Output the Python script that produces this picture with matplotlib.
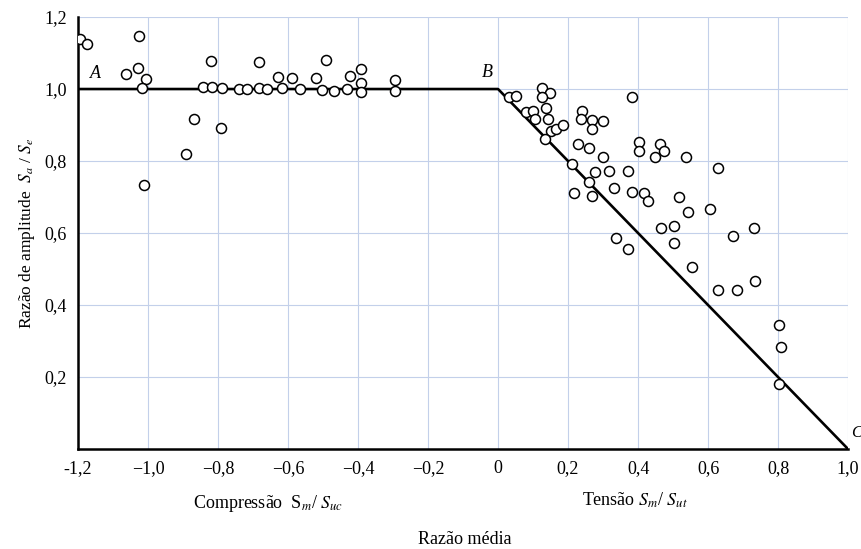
# -*- coding: utf-8 -*-
# Diagrama de Goodman modificado - razão de amplitude vs razão média

import numpy as np
import matplotlib.pyplot as plt

# ----------------------------------------------------------------------
# Dados
# Compressão (lado esquerdo)
xc = [-1.193, -1.175, -1.025, -1.062, -1.028, -1.005, -1.017, -1.011,
      -0.891, -0.870, -0.792, -0.820, -0.844, -0.817, -0.788, -0.739,
      -0.718, -0.682, -0.682, -0.659, -0.629, -0.618, -0.590, -0.567,
      -0.519, -0.491, -0.503, -0.470, -0.432, -0.424, -0.391, -0.391,
      -0.391, -0.294, -0.294]
yc = [1.139, 1.125, 1.147, 1.041, 1.059, 1.028, 1.002, 0.734,
      0.819, 0.918, 0.893, 1.079, 1.005, 1.005, 1.002, 1.000,
      0.999, 1.074, 1.002, 1.000, 1.034, 1.002, 1.032, 0.999,
      1.031, 1.081, 0.997, 0.994, 0.999, 1.037, 1.055, 1.016,
      0.993, 1.025, 0.995]

# Tensão (lado direito)
xt = [0.032, 0.051, 0.126, 0.149, 0.126, 0.383, 0.079, 0.101, 0.105,
      0.137, 0.144, 0.150, 0.166, 0.185, 0.135, 0.240, 0.236, 0.267,
      0.267, 0.300, 0.227, 0.259, 0.300, 0.404, 0.402, 0.463, 0.474,
      0.449, 0.536, 0.627, 0.211, 0.259, 0.278, 0.318, 0.371, 0.217,
      0.267, 0.331, 0.382, 0.418, 0.427, 0.516, 0.544, 0.606, 0.337,
      0.372, 0.465, 0.502, 0.504, 0.672, 0.731, 0.553, 0.629, 0.682,
      0.733, 0.802, 0.809, 0.803]
yt = [0.979, 0.981, 1.004, 0.988, 0.979, 0.977, 0.935, 0.939, 0.916,
      0.946, 0.918, 0.883, 0.888, 0.900, 0.861, 0.938, 0.918, 0.914,
      0.889, 0.911, 0.848, 0.835, 0.812, 0.854, 0.829, 0.847, 0.829,
      0.812, 0.810, 0.781, 0.791, 0.743, 0.770, 0.773, 0.771, 0.712,
      0.703, 0.725, 0.713, 0.710, 0.690, 0.699, 0.658, 0.666, 0.585,
      0.557, 0.613, 0.619, 0.573, 0.592, 0.615, 0.505, 0.442, 0.442,
      0.466, 0.344, 0.283, 0.180]

# Linha A-B-C
linha_x = [-1.2, 0.0, 1.0]
linha_y = [1.0, 1.0, 0.0]

xticks = [-1.2, -1.0, -0.8, -0.6, -0.4, -0.2, 0.0, 0.2, 0.4, 0.6, 0.8, 1.0]
xticklabels = ['-1,2', '\u22121,0', '\u22120,8', '\u22120,6', '\u22120,4', '\u22120,2',
               '0', '0,2', '0,4', '0,6', '0,8', '1,0']
yticks = [0.2, 0.4, 0.6, 0.8, 1.0, 1.2]
yticklabels = ['0,2', '0,4', '0,6', '0,8', '1,0', '1,2']

# ----------------------------------------------------------------------
# Plotten
plt.rcParams['font.family'] = 'Liberation Serif'
plt.rcParams['mathtext.fontset'] = 'stix'

fig = plt.figure(figsize=(8.61, 5.49), dpi=100)
ax = fig.add_axes([0.0906, 0.182, 0.8944, 0.787])

ax.set_xlim(-1.2, 1.0)
ax.set_ylim(0, 1.2)

# Gitter (hellblau)
for xv in xticks[1:]:
    ax.axvline(xv, color='#c3d0ea', linewidth=0.8, zorder=0)
for yv in yticks:
    ax.axhline(yv, color='#c3d0ea', linewidth=0.8, zorder=0)

ax.plot(linha_x, linha_y, color='black', linewidth=1.9, zorder=2)

ax.plot(xc, yc, 'o', markersize=7.2, markerfacecolor='white',
        markeredgecolor='black', markeredgewidth=1.1, zorder=3)
ax.plot(xt, yt, 'o', markersize=7.2, markerfacecolor='white',
        markeredgecolor='black', markeredgewidth=1.1, zorder=3)

for s in ['top', 'right']:
    ax.spines[s].set_visible(False)
ax.spines['left'].set_linewidth(1.8)
ax.spines['bottom'].set_linewidth(1.8)

ax.set_xticks(xticks)
ax.set_xticklabels(xticklabels, fontsize=13)
ax.set_yticks(yticks)
ax.set_yticklabels(yticklabels, fontsize=13)
ax.tick_params(length=0, pad=8)

# Beschriftungen A, B, C
ax.text(-1.15, 1.042, 'A', fontsize=13, style='italic', ha='center', va='center')
ax.text(-0.03, 1.045, 'B', fontsize=13, style='italic', ha='center', va='center')
ax.text(1.008, 0.045, 'C', fontsize=12, style='italic', ha='left', va='center',
        clip_on=False)

ax.set_ylabel(r'Razão de amplitude  $S_a$ / $S_e$', fontsize=12.5, labelpad=5)

fig.text(268/861, 1 - 503/549, r'Compressão  S$_m$/ $S_{uc}$', fontsize=13,
         ha='center', va='center')
fig.text(635/861, 1 - 500/549, r'Tensão $S_m$/ $S_{ut}$', fontsize=13,
         ha='center', va='center')
fig.text(465/861, 1 - 539/549, 'Razão média', fontsize=13,
         ha='center', va='center')

fig.savefig('out.png', dpi=100)
